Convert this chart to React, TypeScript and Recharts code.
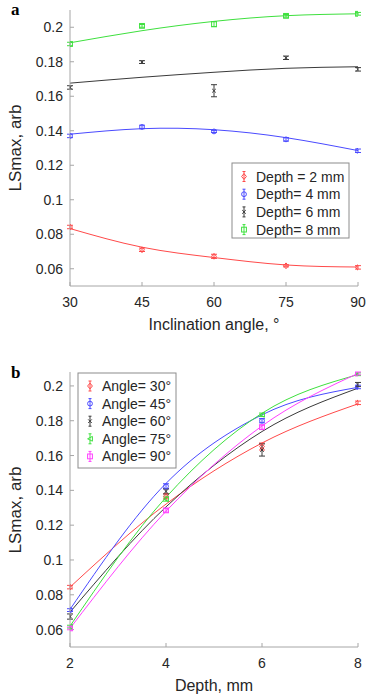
import React from 'react'
import {
  ComposedChart,
  Line,
  Scatter,
  ErrorBar,
  XAxis,
  YAxis,
} from 'recharts'

// panel a: LSmax vs inclination angle, one series per depth
const angles = [30, 45, 60, 75, 90]
const depth2 = [0.0842, 0.071, 0.0672, 0.0617, 0.0608]
const depth2Err = [0.001, 0.001, 0.0012, 0.0006, 0.001]
const depth2Fit = [0.0833, 0.0725, 0.0665, 0.0622, 0.061]
const depth4 = [0.137, 0.1422, 0.1396, 0.135, 0.1284]
const depth4Err = [0.001, 0.001, 0.0006, 0.001, 0.001]
const depth4Fit = [0.138, 0.1412, 0.1406, 0.136, 0.1285]
const depth6 = [0.1651, 0.1798, 0.1632, 0.1823, 0.1756]
const depth6Err = [0.001, 0.0008, 0.0035, 0.001, 0.001]
const depth6Fit = [0.1676, 0.171, 0.1739, 0.1762, 0.1771]
const depth8 = [0.1903, 0.2008, 0.2018, 0.2066, 0.2078]
const depth8Err = [0.001, 0.0008, 0.0015, 0.0008, 0.0008]
const depth8Fit = [0.191, 0.198, 0.2034, 0.2067, 0.2078]
const angleTicks = [30, 45, 60, 75, 90]

// panel b: LSmax vs depth, one series per angle
const depths = [2, 4, 6, 8]
const angle30 = [0.0844, 0.1366, 0.1652, 0.1903]
const angle30Err = [0.001, 0.0015, 0.002, 0.001]
const angle30Fit = [0.0844, 0.1321, 0.1672, 0.1897]
const angle45 = [0.0712, 0.1423, 0.18, 0.1994]
const angle45Err = [0.0008, 0.0015, 0.0012, 0.001]
const angle45Fit = [0.0716, 0.144, 0.1834, 0.1992]
const angle60 = [0.0675, 0.1394, 0.1632, 0.2008]
const angle60Err = [0.0015, 0.0015, 0.0035, 0.0012]
const angle60Fit = [0.07, 0.1305, 0.1738, 0.1987]
const angle75 = [0.0617, 0.135, 0.1834, 0.2067]
const angle75Err = [0.0008, 0.0012, 0.001, 0.0008]
const angle75Fit = [0.062, 0.136, 0.1843, 0.2065]
const angle90 = [0.0607, 0.1285, 0.1763, 0.2072]
const angle90Err = [0.0008, 0.001, 0.0012, 0.0008]
const angle90Fit = [0.0607, 0.128, 0.177, 0.2072]
const depthTicks = [2, 4, 6, 8]

const yTicks = [0.06, 0.08, 0.1, 0.12, 0.14, 0.16, 0.18, 0.2]

const RED = '#ff4a4a'
const BLUE = '#4a4aff'
const BLACK = '#3a3a3a'
const GREEN = '#3ee03e'
const MAGENTA = '#ff40ff'
const FRAME = '#a6a6a6'
const TEXT = '#262626'
const FONT = '"Liberation Sans", Arial, sans-serif'

type Kind = 'diamond' | 'circle' | 'x' | 'square' | 'triangle'

function Mark({ cx, cy, kind, color }: { cx: number; cy: number; kind: Kind; color: string }) {
  const s = 2.4
  if (kind === 'circle') return <circle cx={cx} cy={cy} r={s} fill="none" stroke={color} strokeWidth={1} />
  if (kind === 'square')
    return <rect x={cx - s} y={cy - s} width={2 * s} height={2 * s} fill="none" stroke={color} strokeWidth={1} />
  if (kind === 'diamond')
    return (
      <polygon
        points={`${cx},${cy - s - 0.5} ${cx + s},${cy} ${cx},${cy + s + 0.5} ${cx - s},${cy}`}
        fill="none"
        stroke={color}
        strokeWidth={1}
      />
    )
  if (kind === 'triangle')
    return (
      <polygon
        points={`${cx - s},${cy} ${cx + s},${cy - s} ${cx + s},${cy + s}`}
        fill="none"
        stroke={color}
        strokeWidth={1}
      />
    )
  return (
    <g stroke={color} strokeWidth={1}>
      <line x1={cx - 1.8} y1={cy - 1.8} x2={cx + 1.8} y2={cy + 1.8} />
      <line x1={cx - 1.8} y1={cy + 1.8} x2={cx + 1.8} y2={cy - 1.8} />
    </g>
  )
}

interface Series {
  name: string
  color: string
  kind: Kind
  values: number[]
  errors: number[]
  fit: number[]
}

const seriesA: Series[] = [
  { name: 'Depth = 2 mm', color: RED, kind: 'diamond', values: depth2, errors: depth2Err, fit: depth2Fit },
  { name: 'Depth= 4 mm', color: BLUE, kind: 'circle', values: depth4, errors: depth4Err, fit: depth4Fit },
  { name: 'Depth= 6 mm', color: BLACK, kind: 'x', values: depth6, errors: depth6Err, fit: depth6Fit },
  { name: 'Depth= 8 mm', color: GREEN, kind: 'square', values: depth8, errors: depth8Err, fit: depth8Fit },
]

const seriesB: Series[] = [
  { name: 'Angle= 30°', color: RED, kind: 'diamond', values: angle30, errors: angle30Err, fit: angle30Fit },
  { name: 'Angle= 45°', color: BLUE, kind: 'circle', values: angle45, errors: angle45Err, fit: angle45Fit },
  { name: 'Angle= 60°', color: BLACK, kind: 'x', values: angle60, errors: angle60Err, fit: angle60Fit },
  { name: 'Angle= 75°', color: GREEN, kind: 'triangle', values: angle75, errors: angle75Err, fit: angle75Fit },
  { name: 'Angle= 90°', color: MAGENTA, kind: 'square', values: angle90, errors: angle90Err, fit: angle90Fit },
]

const tickStyle = { fill: TEXT, fontSize: 14, fontFamily: FONT }
const blank = () => ''

function Panel({
  xs,
  series,
  xDomain,
  xTicks,
  yDomain,
  height,
  marginTop,
  axisHeight,
  curve,
}: {
  xs: number[]
  series: Series[]
  xDomain: [number, number]
  xTicks: number[]
  yDomain: [number, number]
  height: number
  marginTop: number
  axisHeight: number
  curve: 'natural' | 'monotone'
}) {
  return (
    <ComposedChart width={373} height={height} margin={{ top: marginTop, right: 15, bottom: 0, left: 8 }}>
      <XAxis
        type="number"
        dataKey="x"
        domain={xDomain}
        ticks={xTicks}
        allowDataOverflow
        height={axisHeight}
        tickSize={-4}
        tickMargin={15}
        tick={tickStyle}
        stroke={FRAME}
      />
      <XAxis
        xAxisId="top"
        orientation="top"
        type="number"
        dataKey="x"
        domain={xDomain}
        ticks={xTicks}
        allowDataOverflow
        height={0}
        tickSize={-4}
        tickFormatter={blank}
        stroke={FRAME}
      />
      <YAxis
        type="number"
        dataKey="y"
        domain={yDomain}
        ticks={yTicks}
        allowDataOverflow
        width={62}
        tickSize={-4}
        tickMargin={11}
        tick={tickStyle}
        stroke={FRAME}
      />
      <YAxis
        yAxisId="right"
        orientation="right"
        type="number"
        dataKey="y"
        domain={yDomain}
        ticks={yTicks}
        allowDataOverflow
        width={0}
        tickSize={-4}
        tickFormatter={blank}
        stroke={FRAME}
      />
      {series.map((s) => (
        <Line
          key={`fit-${s.name}`}
          data={xs.map((x, i) => ({ x, y: s.fit[i] }))}
          dataKey="y"
          type={curve}
          stroke={s.color}
          strokeWidth={1}
          dot={false}
          activeDot={false}
          isAnimationActive={false}
        />
      ))}
      {series.map((s) => (
        <Scatter
          key={`pts-${s.name}`}
          data={xs.map((x, i) => ({ x, y: s.values[i], err: s.errors[i] }))}
          dataKey="y"
          isAnimationActive={false}
          shape={(p: any) => <Mark cx={p.cx} cy={p.cy} kind={s.kind} color={s.color} />}
        >
          <ErrorBar dataKey="err" direction="y" width={3} stroke={s.color} strokeWidth={1} />
        </Scatter>
      ))}
    </ComposedChart>
  )
}

function LegendBox({
  series,
  x,
  y,
  w,
  h,
  markX,
  textX,
  firstY,
  step,
}: {
  series: Series[]
  x: number
  y: number
  w: number
  h: number
  markX: number
  textX: number
  firstY: number
  step: number
}) {
  return (
    <g>
      <rect x={x} y={y} width={w} height={h} fill="#fff" stroke="#8c8c8c" strokeWidth={1} />
      {series.map((s, i) => {
        const cy = firstY + i * step
        return (
          <g key={s.name}>
            <g stroke={s.color} strokeWidth={1}>
              <line x1={markX} y1={cy - 5} x2={markX} y2={cy + 5} />
              <line x1={markX - 1.5} y1={cy - 5} x2={markX + 1.5} y2={cy - 5} />
              <line x1={markX - 1.5} y1={cy + 5} x2={markX + 1.5} y2={cy + 5} />
            </g>
            <Mark cx={markX} cy={cy} kind={s.kind} color={s.color} />
            <text x={textX} y={cy} dominantBaseline="central" fontSize={14} fill={TEXT} fontFamily={FONT}>
              {s.name}
            </text>
          </g>
        )
      })}
    </g>
  )
}

export default function App() {
  return (
    <div style={{ position: 'absolute', left: 0, top: 0, width: 373, height: 694, background: '#fff' }}>
      <div style={{ position: 'absolute', left: 0, top: 0 }}>
        <Panel
          xs={angles}
          series={seriesA}
          xDomain={[30, 90]}
          xTicks={angleTicks}
          yDomain={[0.05, 0.21]}
          height={340}
          marginTop={10}
          axisHeight={54}
          curve="natural"
        />
      </div>
      <div style={{ position: 'absolute', left: 0, top: 350 }}>
        <Panel
          xs={depths}
          series={seriesB}
          xDomain={[2, 8]}
          xTicks={depthTicks}
          yDomain={[0.05, 0.208]}
          height={344}
          marginTop={22}
          axisHeight={47}
          curve="monotone"
        />
      </div>
      <svg
        width={373}
        height={694}
        style={{ position: 'absolute', left: 0, top: 0, pointerEvents: 'none' }}
      >
        <text x={11} y={15} fontSize={17} fontWeight="bold" fontFamily='"Liberation Serif", serif' fill="#000">
          a
        </text>
        <text x={11} y={378} fontSize={17} fontWeight="bold" fontFamily='"Liberation Serif", serif' fill="#000">
          b
        </text>
        <text
          x={15}
          y={148}
          transform="rotate(-90 15 148)"
          textAnchor="middle"
          dominantBaseline="central"
          fontSize={17}
          fill={TEXT}
          fontFamily={FONT}
        >
          LSmax, arb
        </text>
        <text
          x={15}
          y={510}
          transform="rotate(-90 15 510)"
          textAnchor="middle"
          dominantBaseline="central"
          fontSize={17}
          fill={TEXT}
          fontFamily={FONT}
        >
          LSmax, arb
        </text>
        <text x={214} y={324} textAnchor="middle" dominantBaseline="central" fontSize={16} fill={TEXT} fontFamily={FONT}>
          Inclination angle, °
        </text>
        <text x={214} y={685} textAnchor="middle" dominantBaseline="central" fontSize={16} fill={TEXT} fontFamily={FONT}>
          Depth, mm
        </text>
        <LegendBox series={seriesA} x={232} y={163} w={117} h={75} markX={244} textX={256} firstY={176.5} step={17.7} />
        <LegendBox series={seriesB} x={78} y={373} w={98} h={95} markX={90} textX={102} firstY={386} step={17.6} />
      </svg>
    </div>
  )
}
